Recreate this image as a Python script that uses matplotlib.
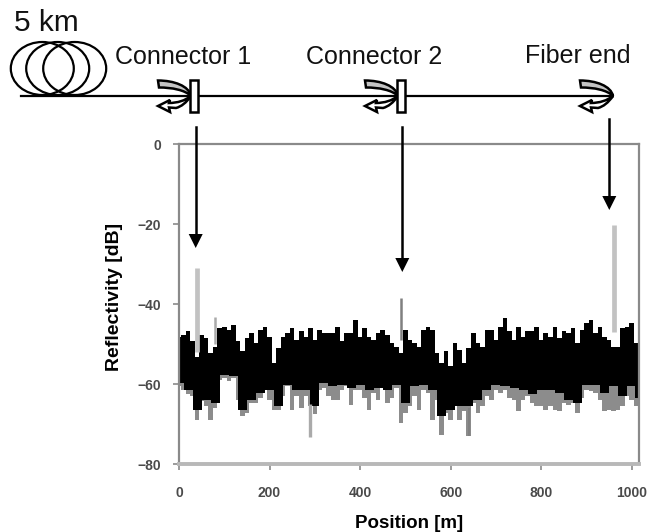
from matplotlib import pyplot as plt
from matplotlib.patches import Ellipse, PathPatch, Rectangle
from matplotlib.path import Path

plt.rcParams['font.family'] = ['Liberation Sans', 'DejaVu Sans']

# noise band, every 10 m
band_x = list(range(0, 1020, 10)) + [1016]
band_top = [
    -48.1, -47.7, -46.8, -49.3, -53.1, -47.7, -48.5, -52.2, -50.6, -46.0,
    -45.6, -46.4, -45.2, -49.3, -51.8, -48.5, -47.2, -49.7, -46.4, -45.6,
    -48.1, -54.7, -51.0, -48.1, -47.2, -46.0, -48.9, -46.8, -48.1, -46.0,
    -48.9, -46.4, -47.2, -47.2, -47.2, -45.6, -49.3, -47.2, -47.2, -43.9,
    -48.1, -46.0, -48.1, -48.9, -47.2, -46.4, -47.7, -49.7, -50.6, -52.2,
    -46.4, -48.9, -49.7, -50.6, -46.4, -45.6, -46.4, -52.2, -54.7, -51.8,
    -55.6, -49.7, -51.4, -54.7, -51.0, -47.2, -49.7, -50.6, -46.4, -46.4,
    -48.9, -45.6, -43.5, -46.8, -48.9, -45.6, -48.1, -46.8, -46.8, -45.6,
    -48.9, -47.2, -48.1, -45.6, -48.5, -46.8, -47.2, -46.0, -49.7, -46.4,
    -44.7, -43.9, -47.2, -45.6, -48.1, -48.9, -50.6, -50.6, -46.0, -45.6,
    -44.7, -49.7, -50.6,
]
band_low = [
    -60.6, -61.4, -62.6, -63.1, -68.9, -64.3, -65.6, -68.9, -66.0, -58.9,
    -58.5, -59.3, -58.5, -63.9, -68.1, -67.2, -64.7, -64.7, -63.5, -61.4,
    -63.9, -66.4, -66.4, -63.1, -60.6, -66.4, -63.1, -66.0, -63.1, -65.6,
    -67.6, -61.4, -61.0, -63.1, -63.9, -63.9, -61.4, -60.6, -65.2, -61.4,
    -61.4, -63.5, -66.4, -62.2, -63.9, -61.0, -64.7, -63.5, -61.0, -69.7,
    -67.2, -65.6, -63.1, -66.4, -61.4, -62.2, -68.9, -63.9, -72.7, -67.2,
    -68.9, -65.6, -68.9, -66.8, -73.1, -64.7, -67.2, -65.6, -63.1, -63.9,
    -61.4, -62.2, -61.4, -63.5, -63.9, -66.8, -63.9, -63.1, -64.7, -65.6,
    -65.6, -66.4, -65.6, -66.4, -66.8, -64.7, -65.2, -64.7, -67.2, -63.5,
    -61.4, -61.8, -62.2, -63.9, -66.8, -66.4, -66.8, -66.4, -65.6, -63.1,
    -63.9, -65.6, -67.2,
]

# solid black part of the lower edge, every 20 m
core_x = list(range(0, 1020, 20)) + [1016]
core_low = [
    -59.7, -61.4, -66.4, -63.9, -64.7, -57.7, -58.1, -66.4, -63.9, -62.2,
    -61.4, -65.6, -60.2, -61.4, -61.4, -65.6, -59.7, -60.6, -60.2, -61.0,
    -60.2, -61.4, -61.0, -61.4, -60.2, -64.7, -60.6, -60.2, -61.4, -68.1,
    -66.4, -65.6, -65.6, -63.9, -61.4, -60.2, -60.6, -61.0, -61.4, -62.6,
    -61.4, -61.4, -62.2, -63.9, -64.7, -60.2, -60.2, -62.2, -60.6, -63.1,
    -60.6, -63.5,
]

# single peaks standing out of the band
peak_x = [40, 490, 960, 80, 290, 640]
peak_hi = [-31.0, -38.5, -20.3, -43.1, -65.0, -66.0]
peak_lo = [-52.0, -49.0, -47.0, -50.0, -73.2, -73.0]
peak_color = ['#c2c2c2', '#808080', '#c2c2c2', '#aaaaaa', '#aaaaaa', '#808080']
peak_width = [3.4, 1.8, 3.4, 1.8, 2.4, 1.5]

x_ticks = [0, 200, 400, 600, 800, 1000]
y_ticks = [0, -20, -40, -60, -80]

W, H = 653, 532
fig = plt.figure(figsize=(W / 100, H / 100), dpi=100)

ax = fig.add_axes([179 / W, 1 - 464 / H, 460 / W, 319.7 / H])
ax.set_xlim(0, 1016)
ax.set_ylim(-80, 0)
ax.fill_between(band_x, band_top, band_low, color='#8c8c8c', lw=0, step='mid')
ax.fill_between(band_x, band_top, -57, color='black', lw=0, step='mid')
ax.fill_between(core_x, core_low, -56, color='black', lw=0, step='mid')
for px, hi, lo, col, w in zip(peak_x, peak_hi, peak_lo, peak_color, peak_width):
    ax.vlines(px, lo, hi, color=col, lw=w, zorder=3)

ax.spines['top'].set_color('#8a8a8a')
ax.spines['left'].set_color('#8a8a8a')
ax.spines['right'].set_color('#8a8a8a')
ax.spines['bottom'].set_color('#b8b8b8')
for side in ['top', 'left', 'right']:
    ax.spines[side].set_linewidth(1.6)
ax.spines['bottom'].set_linewidth(2.8)
ax.set_xticks(x_ticks)
ax.set_yticks(y_ticks)
ax.tick_params(length=4, width=1.2, color='#8a8a8a', labelcolor='#4a4a4a',
               labelsize=10)
ax.tick_params(axis='x', pad=12)
ax.tick_params(axis='y', pad=9)
for lab in ax.get_xticklabels() + ax.get_yticklabels():
    lab.set_fontweight('bold')
ax.set_xlabel('Position [m]', fontsize=13.5, fontweight='bold', va='top')
ax.xaxis.set_label_coords(0.5, -51 / 319.7)
ax.set_ylabel('Reflectivity [dB]', fontsize=14, fontweight='bold')
ax.yaxis.set_label_coords(-56 / 460, 0.524)

# setup sketch on top, in pixel coordinates
top = fig.add_axes([0, 0, 1, 1], facecolor='none')
top.set_xlim(0, W)
top.set_ylim(H, 0)
top.axis('off')

for cx in [42.3, 57.7, 74.7]:
    top.add_patch(Ellipse((cx, 68.5), 63, 53, fc='none', ec='black', lw=1.6))
top.plot([21, 610], [95.7, 95.7], color='black', lw=1.6)


def reflection(x0):
    # incoming gray band
    verts = [(x0, 80.5), (x0 + 16, 80.5), (x0 + 31, 86), (x0 + 33, 96),
             (x0 + 27, 90), (x0 + 14, 87.5), (x0 + 1, 87.5), (x0, 80.5)]
    codes = [Path.MOVETO, Path.CURVE4, Path.CURVE4, Path.CURVE4,
             Path.CURVE4, Path.CURVE4, Path.CURVE4, Path.CLOSEPOLY]
    top.add_patch(PathPatch(Path(verts, codes), fc='#c4c4c4', ec='black', lw=1.8, zorder=4))
    # returning white arrow
    verts = [(x0, 106), (x0 + 12, 100), (x0 + 11, 103), (x0 + 24, 103), (x0 + 33, 96),
             (x0 + 26, 106), (x0 + 18, 108), (x0 + 11, 107.5), (x0 + 12, 112), (x0, 106)]
    codes = [Path.MOVETO, Path.LINETO, Path.LINETO, Path.CURVE3, Path.CURVE3,
             Path.CURVE3, Path.CURVE3, Path.LINETO, Path.LINETO, Path.CLOSEPOLY]
    top.add_patch(PathPatch(Path(verts, codes), fc='white', ec='black', lw=1.8, zorder=4))


for x0 in [158, 365, 580]:
    reflection(x0)
for x0 in [189.5, 396.5]:
    top.add_patch(Rectangle((x0, 80), 8.5, 32, fc='white', ec='black', lw=1.8, zorder=5))

for ax_x, y0, y1 in [(195.7, 127, 248), (402.3, 127, 272), (609.3, 119, 210)]:
    top.plot([ax_x, ax_x], [y0, y1 - 12], color='black', lw=1.8, zorder=6)
    top.fill([ax_x - 7, ax_x + 7, ax_x], [y1 - 14, y1 - 14, y1], color='black', lw=0, zorder=6)

top.text(14, 31, '5 km', fontsize=21.5, color='#111111')
top.text(115, 64.5, 'Connector 1', fontsize=18, color='#111111')
top.text(306, 64.5, 'Connector 2', fontsize=18, color='#111111')
top.text(525, 62.7, 'Fiber end', fontsize=18, color='#111111')

plt.savefig('out.png', dpi=100)
